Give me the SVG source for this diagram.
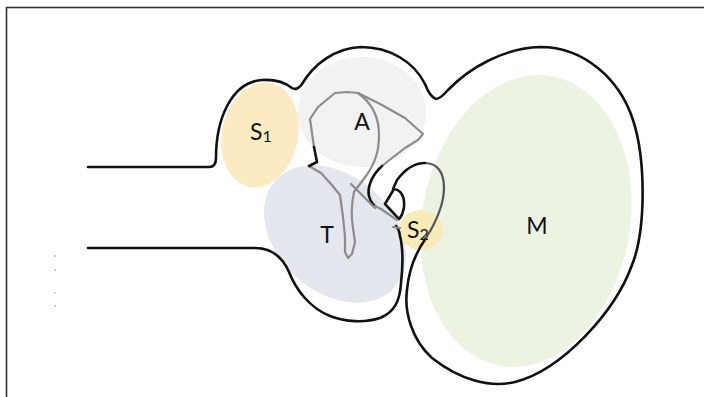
<svg xmlns="http://www.w3.org/2000/svg" width="704" height="397" viewBox="0 0 704 397">
  <style>
    .frame { fill: none; stroke: #333; stroke-width: 1.6; }
    .outline { fill: none; stroke: #111; stroke-width: 2.6; stroke-linejoin: round; stroke-linecap: round; }
    .soft { fill: none; stroke: #555; stroke-width: 2.2; stroke-linecap: round; }
    .organ { fill: none; stroke: #8c8c8c; stroke-width: 2.2; stroke-linejoin: round; stroke-linecap: round; }
    .label { font-family: Lato, "Open Sans", "Liberation Sans", sans-serif; font-size: 23px; fill: #111; }
    .sub { font-size: 16px; }
  </style>

  <rect class="frame" x="6.5" y="7.5" width="710" height="400"/>

  <!-- tiny marks at the left margin -->
  <g fill="#999">
    <rect x="54.5" y="255" width="1" height="2"/>
    <rect x="54.5" y="269" width="1" height="2"/>
    <rect x="54.5" y="292" width="1" height="1.5"/>
    <rect x="54.5" y="305" width="1" height="2"/>
  </g>

  <!-- regions -->
  <g id="S1"><ellipse cx="260" cy="135" rx="38" ry="53" transform="rotate(12 260 135)" fill="#FCEBC2"/></g>
  <g id="A"><ellipse cx="362" cy="112" rx="64" ry="55" fill="#F2F2F2"/></g>
  <g id="T"><ellipse cx="335" cy="234" rx="80" ry="58" transform="rotate(42 335 234)" fill="#E4E7EE"/></g>
  <g id="M"><ellipse cx="526" cy="221" rx="104" ry="147" transform="rotate(10 526 221)" fill="#ECF3E3"/></g>
  <g id="S2"><ellipse cx="421" cy="230" rx="22" ry="20" fill="#F9EAB9"/></g>

  <!-- contours -->
  <g id="contours">
    <!-- upper wall: tube, S1 bulge, A bulge, M sac and its left wall -->
    <path class="outline" d="M88,167 L209,167 Q216,167 216,158 C216,118 232,82 262,80 C278,79 287,84 292,88 Q297,91 302,84 C314,64 335,48 361,47 C390,47 414,62 425,84 Q430,97 436,99 Q440,99 448,90 C470,67 505,48 540,47 C585,47 620,80 633,120 C646,160 646,230 632,265 C615,312 562,370 515,382 C490,388 460,380 432,358 C412,340 404,312 407,290 C409,268 416,252 426,238"/>
    <!-- curl of the M wall -->
    <path class="soft" d="M426,238 C436,222 444,205 444,188 C444,172 437,163 425,163"/>
    <path class="outline" d="M425,163 C412,163 403,172 397,180 L393,189"/>
    <!-- small D-shaped fold -->
    <path class="outline" d="M385,204 L394,189 C401,190 405,197 404,207 C403,213 401,217 399,219 C394,214 389,208 385,204 Z"/>
    <!-- lower wall: tube and T lobe -->
    <path class="outline" d="M88,248 L255,248 C270,248 282,256 289,272 C296,290 310,308 330,316 C345,322 365,323 380,318 C395,312 400,300 401,283 C403,265 403,248 400,236 Q399,229 396,226"/>

    <!-- folded inner structure -->
    <path class="organ" d="M310,119 L318,107 L335,93 L347,92 L358,93 L382,105 L405,118 L423,134 L418,140 L405,148 L392,158 L382,166"/>
    <path class="outline" d="M382,166 C372,175 367,187 369,196 Q371,203 375,206"/>
    <path class="organ" d="M375,206 L381,209 L397,220"/>
    <path class="organ" d="M351,184 L375,208"/>
    <path class="organ" d="M358,93 C372,103 379,118 379,135 C379,152 375,163 366,176 L354,192 Q350,210 353,228 L355,242 L352,254 L348,258 L345,252 L345,237 L343,217 L340,195 L331,184 L321,173 L309,166"/>
    <path class="organ" d="M310,119 L313,140 L314,147"/>
    <path class="outline" d="M314,147 L317,162 L309,166"/>
    <path class="organ" d="M393,227 L400,228"/>
  </g>

  <!-- labels -->
  <text class="label" x="250" y="140">S<tspan class="sub" dy="2">1</tspan></text>
  <text class="label" x="362" y="130" text-anchor="middle">A</text>
  <text class="label" x="327" y="243" text-anchor="middle">T</text>
  <text class="label" x="407" y="238">S<tspan class="sub" dy="2">2</tspan></text>
  <text class="label" x="537" y="234" text-anchor="middle">M</text>
</svg>
